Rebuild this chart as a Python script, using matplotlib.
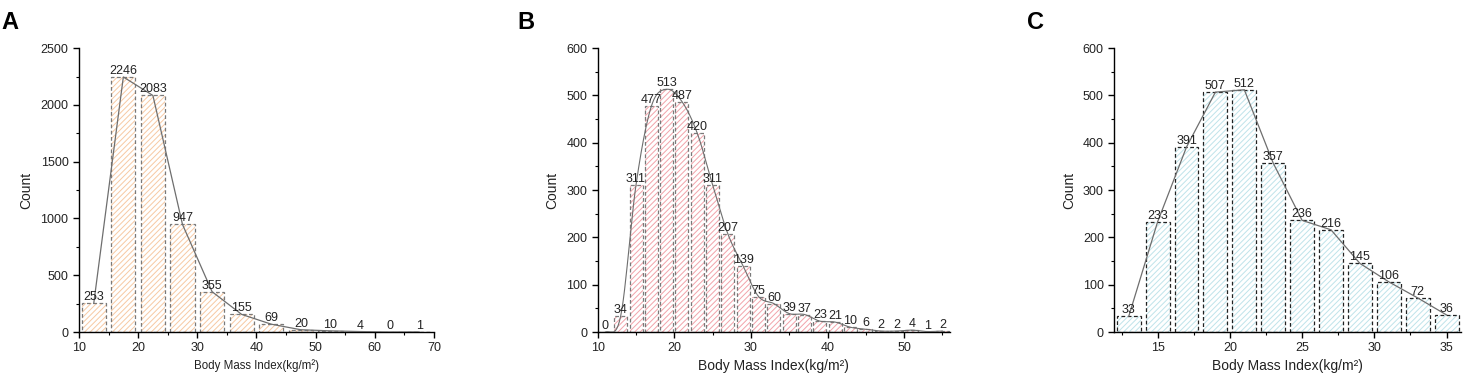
import numpy as np
import matplotlib
matplotlib.use("Agg")
import matplotlib.pyplot as plt
from matplotlib.ticker import MultipleLocator

plt.rcParams['font.family'] = ['Liberation Sans', 'DejaVu Sans']
plt.rcParams['hatch.linewidth'] = 0.7

# Panel A: bins of width 5
a_centers = [12.5, 17.5, 22.5, 27.5, 32.5, 37.5, 42.5, 47.5, 52.5, 57.5, 62.5, 67.5]
a_counts = [253, 2246, 2083, 947, 355, 155, 69, 20, 10, 4, 0, 1]

# Panel B: bins of width 2
b_centers = [11, 13, 15, 17, 19, 21, 23, 25, 27, 29, 31, 33, 35, 37, 39, 41, 43, 45, 47, 49, 51, 53, 55]
b_counts = [0, 34, 311, 477, 513, 487, 420, 311, 207, 139, 75, 60, 39, 37, 23, 21, 10, 6, 2, 2, 4, 1, 2]

# Panel C: bins of width 2
c_centers = [13, 15, 17, 19, 21, 23, 25, 27, 29, 31, 33, 35]
c_counts = [33, 233, 391, 507, 512, 357, 236, 216, 145, 106, 72, 36]

xlabel = "Body Mass Index(kg/m\u00b2)"


def smooth(x, y, n=12):
    # Catmull-Rom curve through the bin tops
    x = np.asarray(x, float)
    y = np.asarray(y, float)
    px = np.concatenate([[2 * x[0] - x[1]], x, [2 * x[-1] - x[-2]]])
    py = np.concatenate([[y[0]], y, [y[-1]]])
    xs, ys = [], []
    t = np.linspace(0, 1, n, endpoint=False)
    for i in range(1, len(px) - 2):
        p0, p1, p2, p3 = py[i - 1], py[i], py[i + 1], py[i + 2]
        ys.append(0.5 * (2 * p1 + (-p0 + p2) * t + (2 * p0 - 5 * p1 + 4 * p2 - p3) * t ** 2
                         + (-p0 + 3 * p1 - 3 * p2 + p3) * t ** 3))
        xs.append(px[i] + (px[i + 1] - px[i]) * t)
    xs.append([x[-1]])
    ys.append([y[-1]])
    return np.concatenate(xs), np.clip(np.concatenate(ys), 0, None)


def panel(ax, centers, counts, width, hatch_color, edge_color, xlim, ylim,
          xmaj, xmin, ymaj, ymin, curve=False, xlabel_size=10):
    ax.bar(centers, counts, width=width, color='white', edgecolor=hatch_color,
           hatch='//////', linewidth=0, zorder=1)
    ax.bar(centers, counts, width=width, fill=False, edgecolor=edge_color,
           linestyle=(0, (3, 2)), linewidth=0.9, zorder=2)
    if curve:
        sx, sy = smooth(centers, counts)
        ax.plot(sx, sy, color='#6e6e6e', linewidth=0.8, zorder=3)
    else:
        ax.plot(centers, counts, color='#6e6e6e', linewidth=0.9, zorder=3)
    for x, v in zip(centers, counts):
        ax.text(x, v, str(v), ha='center', va='bottom', fontsize=9, color='#222222', zorder=4)
    ax.set_xlim(*xlim)
    ax.set_ylim(*ylim)
    ax.xaxis.set_major_locator(MultipleLocator(xmaj))
    ax.xaxis.set_minor_locator(MultipleLocator(xmin))
    ax.yaxis.set_major_locator(MultipleLocator(ymaj))
    ax.yaxis.set_minor_locator(MultipleLocator(ymin))
    ax.spines['top'].set_visible(False)
    ax.spines['right'].set_visible(False)
    ax.spines['left'].set_linewidth(1.0)
    ax.spines['bottom'].set_linewidth(1.0)
    ax.tick_params(which='major', direction='out', length=4, width=1.0, labelsize=9, pad=3.5,
                   labelcolor='#222222')
    ax.tick_params(which='minor', direction='out', length=2.5, width=0.8)
    ax.set_xlabel(xlabel, fontsize=xlabel_size, labelpad=3.5, color='#222222')
    ax.set_ylabel("Count", fontsize=10, labelpad=5, color='#222222')


fig = plt.figure(figsize=(14.65, 3.76), dpi=100)
ax_a = fig.add_axes([0.0539, 0.117, 0.2423, 0.755])
ax_b = fig.add_axes([0.408, 0.117, 0.2405, 0.755])
ax_c = fig.add_axes([0.7606, 0.117, 0.2367, 0.755])

panel(ax_a, a_centers, a_counts, 4.1, '#f7c9a3', '#7a7a7a', (10, 70), (0, 2500),
      10, 5, 500, 250, xlabel_size=8.3)
panel(ax_b, b_centers, b_counts, 1.7, '#f2a3aa', '#7a7a7a', (10, 56), (0, 600),
      10, 5, 100, 50, curve=True)
panel(ax_c, c_centers, c_counts, 1.65, '#bfe3ea', '#222222', (12, 36), (0, 600),
      5, 2.5, 100, 50)

fig.text(0.001, 0.97, "A", fontsize=17, fontweight='bold', va='top', ha='left')
fig.text(0.353, 0.97, "B", fontsize=17, fontweight='bold', va='top', ha='left')
fig.text(0.701, 0.97, "C", fontsize=17, fontweight='bold', va='top', ha='left')

fig.savefig("out.png", dpi=100)
